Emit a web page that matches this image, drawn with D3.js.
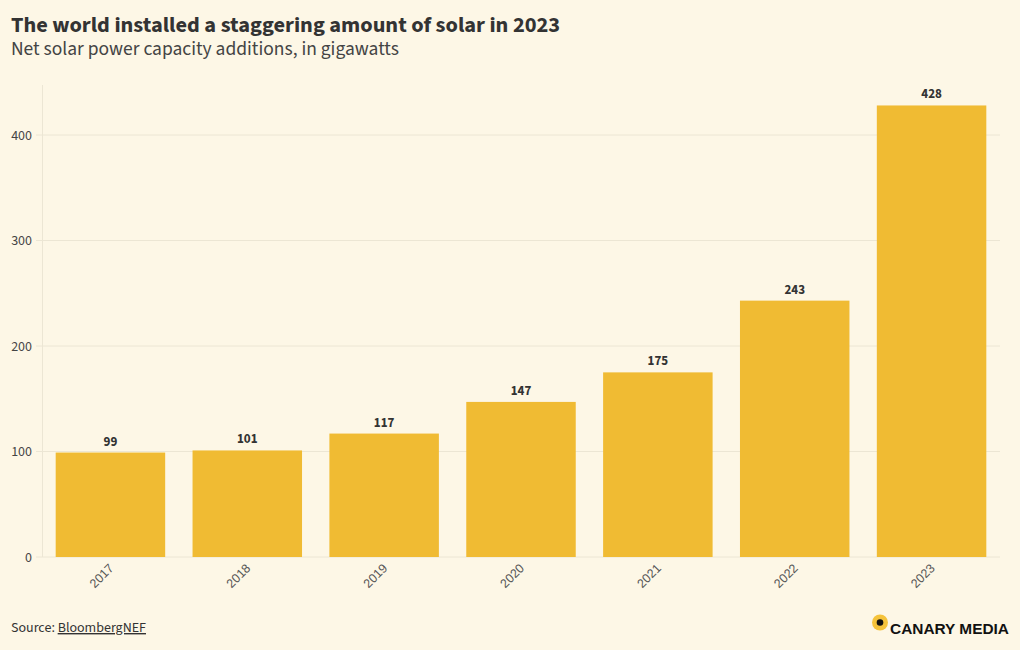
<!DOCTYPE html>
<html><head><meta charset="utf-8">
<script src="https://cdn.jsdelivr.net/npm/d3@7"></script>
<style>
html,body{margin:0;padding:0;background:#fdf7e6;}
svg{display:block;}
</style></head>
<body>
<svg id="chart" width="1020" height="650"></svg>
<script>
const years = ["2017","2018","2019","2020","2021","2022","2023"];
const values = [99, 101, 117, 147, 175, 243, 428];
const yTicks = [0, 100, 200, 300, 400];
const titleText = "The world installed a staggering amount of solar in 2023";
const subtitleText = "Net solar power capacity additions, in gigawatts";

const svg = d3.select("#chart");
const FONT = "'Source Sans Pro','Source Sans 3',Lato,'Noto Sans',sans-serif";
svg.append("rect").attr("width",1020).attr("height",650).attr("fill","#fdf7e6");

function fit(sel, target){
  let fs = parseFloat(sel.attr("font-size"));
  const w = sel.node().getComputedTextLength();
  sel.attr("font-size", (fs*target/w).toFixed(2));
}

const title = svg.append("text").attr("x",11).attr("y",32)
  .attr("font-family",FONT).attr("font-weight",700).attr("font-size",22)
  .attr("fill","#333").text(titleText);
fit(title, 549);
const sub = svg.append("text").attr("x",11).attr("y",55)
  .attr("font-family",FONT).attr("font-size",18)
  .attr("fill","#444").text(subtitleText);
fit(sub, 388);

const x = d3.scaleBand().domain(years).range([42,1000]).paddingInner(0.2).paddingOuter(0.1);
const y = d3.scaleLinear().domain([0,400]).range([557,135]);

// grid
const g = svg.append("g");
g.selectAll("line.grid").data(yTicks).join("line")
  .attr("x1",36).attr("x2",1000)
  .attr("y1",d=>y(d)).attr("y2",d=>y(d))
  .attr("stroke","#ece6d4").attr("stroke-width",1);
g.append("line").attr("x1",42.5).attr("x2",42.5).attr("y1",85).attr("y2",557)
  .attr("stroke","#ece6d4");

// y axis
const yAxis = svg.append("g").attr("transform","translate(42,0)")
  .call(d3.axisLeft(y).tickValues(yTicks).tickSize(0).tickPadding(10));
yAxis.select(".domain").remove();
yAxis.selectAll("text").attr("font-family",FONT).attr("font-size",14).attr("fill","#444");

// bars
svg.append("g").selectAll("rect").data(values).join("rect")
  .attr("x",(d,i)=>x(years[i])).attr("width",x.bandwidth())
  .attr("y",d=>y(d)).attr("height",d=>y(0)-y(d))
  .attr("fill","#f0bb33");

// value labels
svg.append("g").selectAll("text").data(values).join("text")
  .attr("x",(d,i)=>x(years[i])+x.bandwidth()/2)
  .attr("y",d=>y(d)-7)
  .attr("text-anchor","middle")
  .attr("font-family",FONT).attr("font-weight",700).attr("font-size",13)
  .attr("fill","#333").text(d=>d);

// x axis
const xAxis = svg.append("g").attr("transform","translate(0,557)")
  .call(d3.axisBottom(x).tickSize(0).tickPadding(0));
xAxis.select(".domain").remove();
xAxis.selectAll("text")
  .attr("font-family","'Liberation Sans',Arial,sans-serif").attr("font-size",12.5).attr("fill","#555")
  .attr("text-anchor","end").attr("dy",null).attr("y",0)
  .attr("transform","translate(4,12) rotate(-45)");

// source
const src = svg.append("text").attr("x",11).attr("y",632)
  .attr("font-family",FONT).attr("font-size",13).attr("fill","#333");
src.append("tspan").text("Source: ");
src.append("tspan").attr("text-decoration","underline").text("BloombergNEF");
fit(src, 135);

// logo
svg.append("circle").attr("cx",880).attr("cy",622.5).attr("r",8).attr("fill","#f5c33b");
svg.append("circle").attr("cx",880).attr("cy",622.5).attr("r",3.3).attr("fill","#111");
svg.append("text").attr("x",890).attr("y",634)
  .attr("font-family","'Liberation Sans',Arial,sans-serif").attr("font-weight",700)
  .attr("font-size",14).attr("fill","#111")
  .attr("textLength",119).attr("lengthAdjust","spacingAndGlyphs")
  .text("CANARY MEDIA");
</script>
</body></html>
